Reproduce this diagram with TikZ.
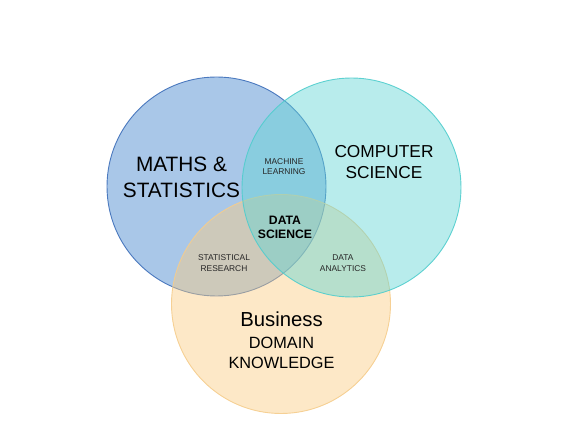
\documentclass[tikz,border=0pt]{standalone}
\usepackage{fontspec}
\setmainfont{Liberation Sans}
\definecolor{bluefill}{RGB}{65,130,204}
\definecolor{tealfill}{RGB}{98,213,212}
\definecolor{orangefill}{RGB}{250,204,130}
\definecolor{bluestroke}{RGB}{60,110,185}
\definecolor{tealstroke}{RGB}{80,205,205}
\definecolor{orangestroke}{RGB}{245,205,140}
\begin{document}
\begin{tikzpicture}[x=1pt,y=-1pt,
  setcircle/.style={circle, minimum size=219pt, inner sep=0pt, fill opacity=0.45, draw opacity=0.9, line width=0.9pt},
  bigtxt/.style={align=center, font=\fontsize{20.8}{26.5}\selectfont, text=black},
  midtxt/.style={align=center, font=\fontsize{17.3}{21}\selectfont, text=black},
  smalltxt/.style={align=center, font=\fontsize{8.4}{10.5}\selectfont, text=black!85},
  coretxt/.style={align=center, font=\bfseries\fontsize{12.2}{14}\selectfont, text=black}]
\useasboundingbox (0,0) rectangle (568,438);
\node[setcircle, fill=bluefill, draw=bluestroke] (maths) at (216.5,186.5) {};
\node[setcircle, fill=orangefill, draw=orangestroke] (biz) at (281,304) {};
\node[setcircle, fill=tealfill, draw=tealstroke] (cs) at (351.5,187.5) {};
\node[bigtxt] (mathslbl) at (181.5,177.5) {MATHS \&\\STATISTICS};
\node[midtxt] (cslbl) at (384,162) {COMPUTER\\SCIENCE};
\node[smalltxt] (ml) at (284,166.5) {MACHINE\\LEARNING};
\node[coretxt] (ds) at (285,227) {DATA\\SCIENCE};
\node[smalltxt] (sr) at (224,263) {STATISTICAL\\RESEARCH};
\node[smalltxt] (da) at (343,263) {DATA\\ANALYTICS};
\node[align=center, font=\fontsize{20.3}{22}\selectfont, text=black] (busi) at (281.5,319) {Business};
\node[align=center, font=\fontsize{16.3}{20}\selectfont, text=black] (dk) at (281.5,353) {DOMAIN\\KNOWLEDGE};
\end{tikzpicture}
\end{document}
